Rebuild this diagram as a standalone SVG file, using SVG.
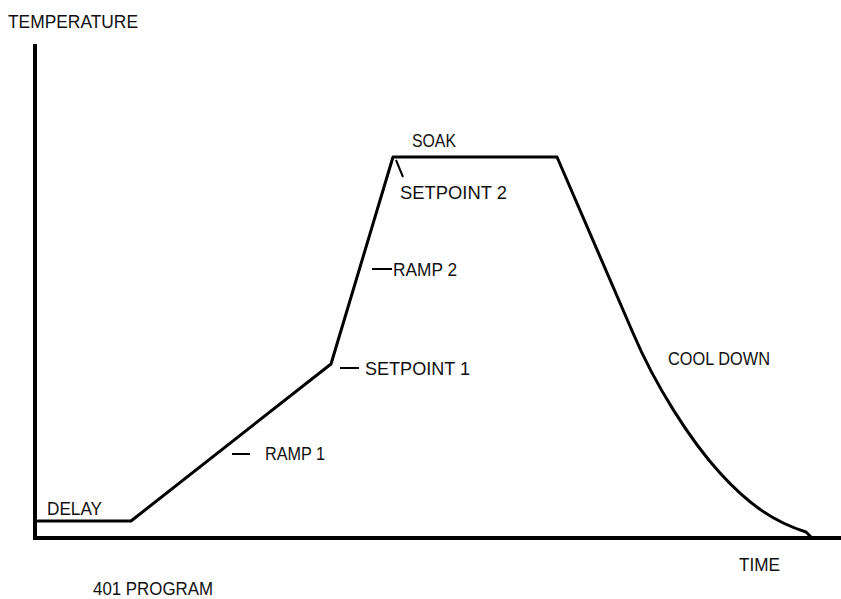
<svg xmlns="http://www.w3.org/2000/svg" width="841" height="599" viewBox="0 0 841 599">
<style>
.lbl{font-family:"Liberation Sans","DejaVu Sans",Arial,sans-serif;font-size:18px;fill:#111;}
.axis{stroke:#000;stroke-width:4;fill:none;}
.curve{stroke:#000;stroke-width:3;fill:none;stroke-linejoin:round;stroke-linecap:round;}
.tick{stroke:#000;stroke-width:2;fill:none;}
</style>
<rect width="841" height="599" fill="#fff"/>
<g id="axes">
<line class="axis" x1="35" y1="44" x2="35" y2="540"/>
<line class="axis" x1="33" y1="538" x2="841" y2="538"/>
</g>
<g id="profile">
<path class="curve" d="M38,521 L131,521 L331,364 L393,157 L557,157 L633,333 C655,385 690,440 720,473 S775,522 806,532 L811,537"/>
</g>
<g id="connectors">
<line class="tick" x1="396" y1="160" x2="403" y2="177"/>
<line class="tick" x1="372" y1="269" x2="392" y2="269"/>
<line class="tick" x1="340" y1="368" x2="359" y2="368"/>
<line class="tick" x1="232" y1="454" x2="250" y2="454"/>
</g>
<g id="labels">
<text class="lbl" x="8" y="28" textLength="130" lengthAdjust="spacingAndGlyphs">TEMPERATURE</text>
<text class="lbl" x="412" y="147" textLength="44" lengthAdjust="spacingAndGlyphs">SOAK</text>
<text class="lbl" x="400" y="199" textLength="107" lengthAdjust="spacingAndGlyphs">SETPOINT 2</text>
<text class="lbl" x="393" y="276" textLength="64" lengthAdjust="spacingAndGlyphs">RAMP 2</text>
<text class="lbl" x="365" y="375" textLength="105" lengthAdjust="spacingAndGlyphs">SETPOINT 1</text>
<text class="lbl" x="668" y="365" textLength="102" lengthAdjust="spacingAndGlyphs">COOL DOWN</text>
<text class="lbl" x="265" y="460" textLength="60" lengthAdjust="spacingAndGlyphs">RAMP 1</text>
<text class="lbl" x="47" y="515" textLength="55" lengthAdjust="spacingAndGlyphs">DELAY</text>
<text class="lbl" x="739" y="571" textLength="41" lengthAdjust="spacingAndGlyphs">TIME</text>
<text class="lbl" x="93" y="595" textLength="120" lengthAdjust="spacingAndGlyphs">401 PROGRAM</text>
</g>
</svg>
